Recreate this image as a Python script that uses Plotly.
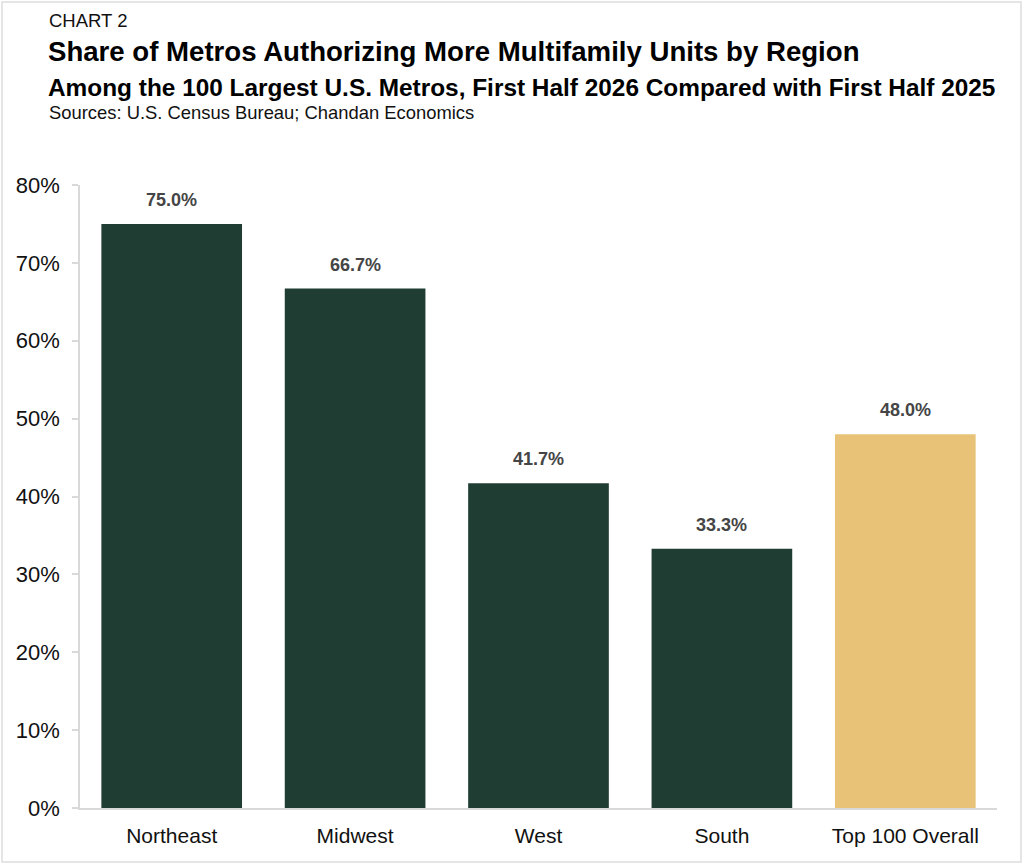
import plotly.graph_objects as go

categories = ["Northeast", "Midwest", "West", "South", "Top 100 Overall"]
values = [0.750, 0.667, 0.417, 0.333, 0.480]
bar_colors = ["#1f3d32", "#1f3d32", "#1f3d32", "#1f3d32", "#e8c377"]
tick_vals = [0, 0.1, 0.2, 0.3, 0.4, 0.5, 0.6, 0.7, 0.8]
tick_text = ["0%", "10%", "20%", "30%", "40%", "50%", "60%", "70%", "80%"]

FONT = "Liberation Sans, Arial, Helvetica, sans-serif"

fig = go.Figure()
fig.add_trace(go.Bar(
    x=categories,
    y=values,
    marker=dict(color=bar_colors, line=dict(width=0)),
    width=0.767,
    hoverinfo="x+y",
))

L, R, T, B = 80, 27, 185, 59
W, H = 1024, 867
pw = W - L - R
ph = H - T - B

def px_x(p):
    return (p - L) / pw

def px_y(p):
    return (H - B - p) / ph

annotations = [
    dict(x=c, y=v, xref="x", yref="y", text=f"<b>{v*100:.1f}%</b>",
         showarrow=False, yanchor="bottom", yshift=12,
         font=dict(family=FONT, size=18, color="#454545"))
    for c, v in zip(categories, values)
]

annotations += [
    dict(text="CHART 2", x=px_x(47), y=px_y(20), xref="paper", yref="paper",
         xanchor="left", yanchor="middle", showarrow=False,
         font=dict(family=FONT, size=18.5, color="#111111")),
    dict(text="<b>Share of Metros Authorizing More Multifamily Units by Region</b>",
         x=px_x(46), y=px_y(52), xref="paper", yref="paper",
         xanchor="left", yanchor="middle", showarrow=False,
         font=dict(family=FONT, size=27.6, color="#000000")),
    dict(text="<b>Among the 100 Largest U.S. Metros, First Half 2026 Compared with First Half 2025</b>",
         x=px_x(46), y=px_y(87), xref="paper", yref="paper",
         xanchor="left", yanchor="middle", showarrow=False,
         font=dict(family=FONT, size=24.4, color="#000000")),
    dict(text="Sources: U.S. Census Bureau; Chandan Economics",
         x=px_x(47), y=px_y(112), xref="paper", yref="paper",
         xanchor="left", yanchor="middle", showarrow=False,
         font=dict(family=FONT, size=18.4, color="#111111")),
]

fig.update_layout(
    width=W, height=H,
    margin=dict(l=L, r=R, t=T, b=B, autoexpand=False),
    paper_bgcolor="white",
    plot_bgcolor="white",
    showlegend=False,
    font=dict(family=FONT, color="#111111"),
    xaxis=dict(
        showline=True, linecolor="#d9d9d9", linewidth=1.5,
        ticks="", tickfont=dict(size=21, color="#111111"),
        ticklabelstandoff=8,
        showgrid=False,
    ),
    yaxis=dict(
        range=[0, 0.8],
        tickvals=tick_vals, ticktext=tick_text,
        showline=True, linecolor="#d9d9d9", linewidth=1.5,
        ticks="outside", ticklen=6, tickcolor="#d9d9d9", tickwidth=1.5,
        tickfont=dict(size=22, color="#111111"),
        ticklabelstandoff=8,
        showgrid=False, zeroline=False,
    ),
    shapes=[dict(
        type="rect", xref="paper", yref="paper",
        x0=px_x(2), x1=px_x(1021), y0=px_y(862), y1=px_y(2),
        line=dict(color="#dddddd", width=1.5), fillcolor="rgba(0,0,0,0)",
        layer="below",
    )],
    annotations=annotations,
)

fig.write_html("out.html",
               config={"displayModeBar": False},
               post_script="document.body.style.margin='0';document.body.style.padding='0';")
